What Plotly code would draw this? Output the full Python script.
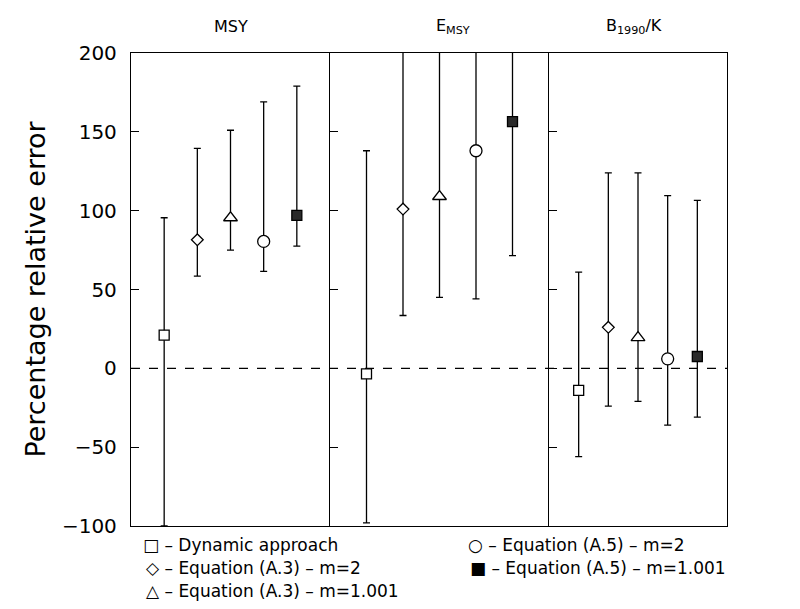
import plotly.graph_objects as go

# ---------------- data ----------------
panels = ["MSY", "E<sub>MSY</sub>", "B<sub>1990</sub>/K"]
methods = ["Dynamic approach", "Equation (A.3) - m=2", "Equation (A.3) - m=1.001",
           "Equation (A.5) - m=2", "Equation (A.5) - m=1.001"]
positions = [1, 2, 3, 4, 5]

# estimate / lower / upper percentage relative error, per panel (order = methods)
msy_est = [21, 81.5, 95.5, 80.5, 97]
msy_low = [-100, 58.5, 75, 61.5, 77.5]
msy_up = [95.5, 139.5, 151, 169, 179]

emsy_est = [-3.5, 101, 109, 138, 156.5]
emsy_low = [-98, 33.5, 45, 44, 71.5]
emsy_up = [138, 230, 230, 230, 230]

b_est = [-14, 26, 19.5, 6, 7.5]
b_low = [-56, -24, -21, -36, -31]
b_up = [61, 124, 124, 109.5, 106.5]

ytick_vals = [-100, -50, 0, 50, 100, 150, 200]

# ---------------- styling ----------------
symbols = ["square", "diamond", "triangle-up", "circle", "square"]
fills = ["white", "white", "white", "white", "#2a2a2a"]
sizes = [10, 9, 12, 12, 10]
legend_glyphs = ["\u25a1", "\u25c7", "\u25b3", "\u25cb", "\u25a0"]

fig = go.Figure()
data = [(msy_est, msy_low, msy_up), (emsy_est, emsy_low, emsy_up), (b_est, b_low, b_up)]
axis_suffix = ["", "2", "3"]

for p, (est, low, up) in enumerate(data):
    for i in range(len(methods)):
        fig.add_trace(go.Scatter(
            x=[positions[i]], y=[est[i]],
            xaxis="x" + axis_suffix[p], yaxis="y" + axis_suffix[p],
            mode="markers",
            marker=dict(symbol=symbols[i], size=sizes[i], color=fills[i],
                        line=dict(color="black", width=1.3)),
            error_y=dict(type="data", symmetric=False,
                         array=[up[i] - est[i]], arrayminus=[est[i] - low[i]],
                         color="black", thickness=1.3, width=3.5),
            showlegend=False, name=methods[i]
        ))

# panel widths (pixels in the reference): 199, 219, 178
d1 = 199 / 596
d2 = 418 / 596
doms = [[0, d1], [d1, d2], [d2, 1]]

common_x = dict(range=[0, 6], showline=True, mirror=True, linecolor="black", linewidth=1.3,
                showticklabels=False, ticks="", showgrid=False, zeroline=False)
common_y = dict(range=[-100, 200], tickvals=ytick_vals, ticks="inside", ticklen=8,
                tickwidth=1.2, tickcolor="black", showline=True,
                linecolor="black", linewidth=1.3, showgrid=False, zeroline=False)

layout = dict(
    width=800, height=609,
    margin=dict(l=123, r=81, t=45, b=91),
    paper_bgcolor="white", plot_bgcolor="white",
    showlegend=False,
    font=dict(family="DejaVu Sans", color="black"),
)
for p in range(3):
    s = axis_suffix[p]
    layout["xaxis" + s] = dict(common_x, domain=doms[p], anchor="y" + s)
    ydict = dict(common_y, anchor="x" + s, mirror=(p == 2))
    if p == 0:
        ydict.update(showticklabels=True, tickfont=dict(size=20, family="DejaVu Sans"),
                     ticklabelstandoff=9,
                     title=dict(text="Percentage relative error", standoff=8,
                                font=dict(size=27, family="DejaVu Sans")))
    else:
        ydict.update(showticklabels=False)
    layout["yaxis" + s] = ydict

fig.update_layout(**layout)

# zero reference line
fig.add_shape(type="line", xref="paper", x0=0, x1=1, yref="y", y0=0, y1=0,
              line=dict(color="black", width=1.2, dash="dash"))

# panel titles
title_x = [0.168, 0.540, 0.844]
for p in range(3):
    fig.add_annotation(text=panels[p], xref="paper", yref="paper", x=title_x[p], y=1.057,
                       xanchor="center", yanchor="middle", showarrow=False,
                       font=dict(size=16, family="DejaVu Sans"))

# legend as text
leg_pos = [(0.017, -0.040), (0.022, -0.089), (0.022, -0.137), (0.562, -0.040), (0.565, -0.089)]
for i in range(len(methods)):
    fig.add_annotation(text=legend_glyphs[i] + " \u2013 " + methods[i].replace(" - ", " \u2013 "),
                       xref="paper", yref="paper", x=leg_pos[i][0], y=leg_pos[i][1],
                       xanchor="left", yanchor="middle", showarrow=False,
                       font=dict(size=17, family="DejaVu Sans"))

fig.write_html("out.html")
